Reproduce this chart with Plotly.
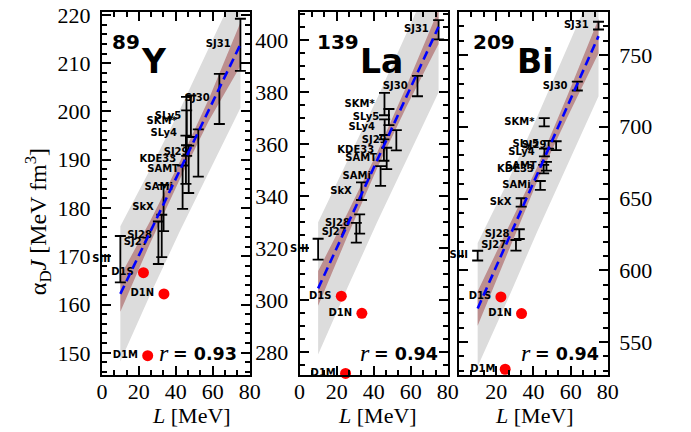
import plotly.graph_objects as go

W, H = 691, 432
PLOT_TOP, PLOT_BOT = 12, 375

# ---------------- data ----------------
names = ["SIII", "SJ27", "SJ28", "SkX", "SAMi", "KDE33", "SAMT",
         "SKM*", "SLy4", "SLy5", "SJ29", "SJ30", "SJ31"]
L_skyrme = [10.0, 30.6, 32.4, 33.4, 43.7, 45.5, 47.0, 45.8, 45.9, 48.2, 52.2, 63.6, 75.0]
gogny_names = ["D1S", "D1N", "D1M"]
L_gogny = [22.5, 33.6, 24.8]

y89_val = [169.4, 172.8, 174.2, 180.0, 184.3, 190.0, 188.0, 198.0, 195.5, 199.0, 191.4, 202.6, 213.8]
y89_err = [4.8, 4.4, 4.4, 4.8, 4.5, 5.0, 4.9, 5.0, 4.7, 4.3, 4.9, 5.2, 5.4]
y89_gogny = [166.6, 162.2, 149.4]

la139_val = [319.6, 325.9, 329.3, 341.9, 347.7, 357.7, 354.5, 375.4, 366.5, 370.4, 361.5, 382.3, 404.0]
la139_err = [4.0, 3.8, 3.7, 3.4, 3.8, 4.1, 4.1, 4.3, 3.0, 3.1, 3.9, 3.9, 3.7]
la139_gogny = [301.5, 294.9, 271.8]

bi209_val = [610.2, 617.4, 625.2, 647.3, 659.1, 670.5, 672.5, 703.2, 682.1, 687.5, 686.8, 728.4, 770.5]
bi209_err = [3.4, 3.7, 3.4, 2.9, 3.1, 3.0, 3.0, 2.9, 2.7, 2.7, 3.1, 3.1, 2.7]
bi209_gogny = [581.4, 569.8, 531.0]

# bands
L_band = [10, 26, 42, 58, 75]
y89_gray_lo = [148.2, 161.9, 175.0, 187.6, 200.7]
y89_gray_hi = [176.2, 187.9, 200.2, 213.2, 227.1]
y89_brown_lo = [158.5, 172.6, 185.8, 198.1, 209.4]
y89_brown_hi = [165.9, 177.2, 189.4, 202.7, 218.4]

la139_gray_lo = [279.1, 305.0, 330.2, 354.5, 379.9]
la139_gray_hi = [329.9, 353.6, 377.8, 403.1, 430.3]
la139_brown_lo = [297.8, 324.9, 351.0, 374.8, 398.5]
la139_brown_hi = [311.2, 333.7, 357.0, 382.8, 411.7]

bi209_gray_lo = [533.0, 579.1, 626.8, 672.5, 721.2]
bi209_gray_hi = [619.0, 661.1, 706.8, 754.5, 805.2]
bi209_brown_lo = [561.4, 612.1, 661.8, 706.0, 751.2]
bi209_brown_hi = [585.4, 628.1, 671.8, 721.0, 775.2]

L_fit = [10, 75]
y89_fit = [162.2, 213.9]
la139_fit = [304.5, 405.1]
bi209_fit = [573.4, 763.2]

r_text = ["0.93", "0.94", "0.94"]
mass_numbers = ["89", "139", "209"]
elements = ["Y", "La", "Bi"]

y_ranges = [[145.4, 220.6], [271.2, 410.8], [527.0, 780.0]]
y_dticks = [10, 20, 50]
y_minor = [2, 5, 10]

# ---------------- layout helpers ----------------
x_domains_px = [(98.3, 249.8), (301.0, 453.0), (464.5, 617.0)]


def px_x(px):
    return px / W


def px_y(py):
    return (PLOT_BOT - py) / (PLOT_BOT - PLOT_TOP)


SERIF = "Liberation Serif"
SANS = "DejaVu Sans"

panels = [
    dict(val=y89_val, err=y89_err, gog=y89_gogny, glo=y89_gray_lo, ghi=y89_gray_hi,
         blo=y89_brown_lo, bhi=y89_brown_hi, fit=y89_fit),
    dict(val=la139_val, err=la139_err, gog=la139_gogny, glo=la139_gray_lo, ghi=la139_gray_hi,
         blo=la139_brown_lo, bhi=la139_brown_hi, fit=la139_fit),
    dict(val=bi209_val, err=bi209_err, gog=bi209_gogny, glo=bi209_gray_lo, ghi=bi209_gray_hi,
         blo=bi209_brown_lo, bhi=bi209_brown_hi, fit=bi209_fit),
]

fig = go.Figure()

for i, p in enumerate(panels):
    xa = "x" if i == 0 else f"x{i+1}"
    ya = "y" if i == 0 else f"y{i+1}"
    # gray band
    fig.add_trace(go.Scatter(x=L_band + L_band[::-1], y=p["ghi"] + p["glo"][::-1],
                             fill="toself", fillcolor="#dcdcdc", line=dict(width=0),
                             mode="lines", xaxis=xa, yaxis=ya, hoverinfo="skip"))
    # brown band
    fig.add_trace(go.Scatter(x=L_band + L_band[::-1], y=p["bhi"] + p["blo"][::-1],
                             fill="toself", fillcolor="#bc8f8f", line=dict(width=0),
                             mode="lines", xaxis=xa, yaxis=ya, hoverinfo="skip"))
    # labels
    fig.add_trace(go.Scatter(x=L_skyrme + L_gogny, y=p["val"] + p["gog"],
                             text=names + gogny_names, mode="markers+text",
                             textposition="middle left",
                             marker=dict(size=14, opacity=0),
                             textfont=dict(family=SANS, size=10, color="black", weight="bold"),
                             cliponaxis=False, xaxis=xa, yaxis=ya, hoverinfo="skip"))
    # error bars
    fig.add_trace(go.Scatter(x=L_skyrme, y=p["val"], mode="markers",
                             marker=dict(size=1, color="black", opacity=0),
                             error_y=dict(type="data", array=p["err"], color="black",
                                          thickness=1.8, width=5.5),
                             xaxis=xa, yaxis=ya))
    # fit line
    fig.add_trace(go.Scatter(x=L_fit, y=p["fit"], mode="lines",
                             line=dict(color="#0000ff", width=2.6, dash="9px,5px"),
                             xaxis=xa, yaxis=ya))
    # Gogny points
    fig.add_trace(go.Scatter(x=L_gogny, y=p["gog"], mode="markers",
                             marker=dict(size=11, color="#ff0000"),
                             cliponaxis=False, xaxis=xa, yaxis=ya))

axis_common = dict(ticks="inside", ticklen=9, tickwidth=1.5, tickcolor="black",
                   showline=True, linecolor="black", linewidth=2, mirror="ticks",
                   showgrid=False, zeroline=False,
                   tickfont=dict(family=SERIF, size=22, color="black"))

layout = dict(width=W, height=H, showlegend=False,
              margin=dict(l=0, r=0, t=PLOT_TOP, b=H - PLOT_BOT),
              plot_bgcolor="white", paper_bgcolor="white")

for i in range(3):
    xk = "xaxis" if i == 0 else f"xaxis{i+1}"
    yk = "yaxis" if i == 0 else f"yaxis{i+1}"
    xa_anchor = "y" if i == 0 else f"y{i+1}"
    ya_anchor = "x" if i == 0 else f"x{i+1}"
    d0, d1 = x_domains_px[i]
    xcfg = dict(axis_common, domain=[px_x(d0), px_x(d1)], range=[0, 80],
                tickmode="linear", tick0=0, dtick=20, anchor=xa_anchor,
                minor=dict(dtick=20 / 3, ticks="inside", ticklen=5, tickwidth=1.5, tickcolor="black"),
                ticklabelstandoff=-4)
    if i == 2:
        xcfg["labelalias"] = {"0": " "}
    ycfg = dict(axis_common, domain=[0, 1], range=y_ranges[i], tickmode="linear",
                tick0=0, dtick=y_dticks[i], anchor=ya_anchor,
                minor=dict(dtick=y_minor[i], ticks="inside", ticklen=5, tickwidth=1.5, tickcolor="black"),
                ticklabelstandoff=5)
    if i == 2:
        ycfg["side"] = "right"
    layout[xk] = xcfg
    layout[yk] = ycfg

annotations = []
# nucleus titles
sup_left = [108.0, 318.0, 478.0]
el_left = [137.0, 362.0, 523.0]
for i in range(3):
    annotations.append(dict(xref="paper", yref="paper", x=px_x(sup_left[i]), y=px_y(42),
                            xanchor="left", yanchor="middle", showarrow=False, borderpad=0,
                            text=f"<b>{mass_numbers[i]}</b>",
                            font=dict(family=SANS, size=20, color="black")))
    annotations.append(dict(xref="paper", yref="paper", x=px_x(el_left[i]), y=px_y(61),
                            xanchor="left", yanchor="middle", showarrow=False, borderpad=0,
                            text=f"<b>{elements[i]}</b>",
                            font=dict(family=SANS, size=33, color="black")))

# correlation coefficients
r_right = [238.0, 444.0, 609.0]
for i in range(3):
    annotations.append(dict(xref="paper", yref="paper", x=px_x(r_right[i]), y=px_y(354),
                            xanchor="right", yanchor="middle", showarrow=False, borderpad=0,
                            text=f"<b>= {r_text[i]}</b>",
                            font=dict(family=SANS, size=17.5, color="black")))
    annotations.append(dict(xref="paper", yref="paper", x=px_x(r_right[i] - 70), y=px_y(353),
                            xanchor="right", yanchor="middle", showarrow=False, borderpad=0,
                            text="<i>r</i>",
                            font=dict(family=SERIF, size=24, color="black")))

# x axis titles
xt_center = [190.0, 381.0, 542.0]
for i in range(3):
    annotations.append(dict(xref="paper", yref="paper", x=px_x(xt_center[i]), y=px_y(416),
                            xanchor="center", yanchor="middle", showarrow=False, borderpad=0,
                            text="<i>L</i> [MeV]",
                            font=dict(family=SERIF, size=22, color="black")))

# y axis title
annotations.append(dict(xref="paper", yref="paper", x=px_x(33), y=px_y(222),
                        xanchor="center", yanchor="middle", showarrow=False, borderpad=0,
                        textangle=-90,
                        text="α<sub>D</sub><i>J</i> [MeV fm<sup>3</sup>]",
                        font=dict(family=SERIF, size=24, color="black")))

layout["annotations"] = annotations
fig.update_layout(**layout)
fig.write_html("out.html", config={"displayModeBar": False},
               post_script="document.body.style.margin='0px';")
